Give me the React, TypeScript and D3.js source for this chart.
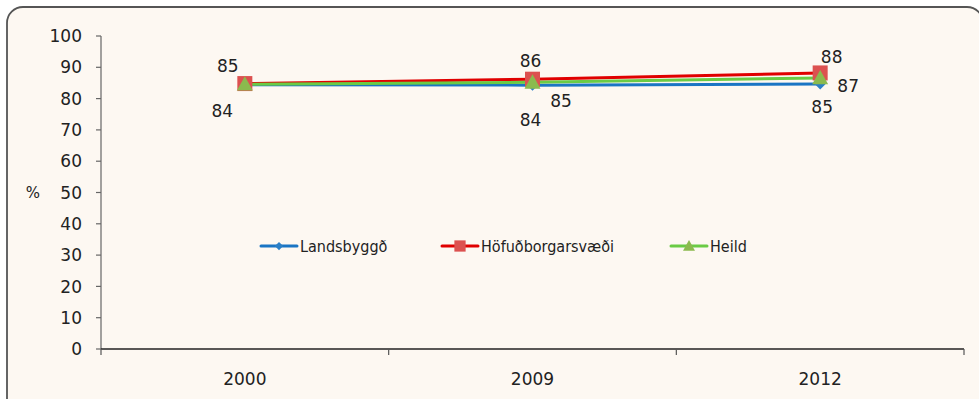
import React from "react";
import * as d3 from "d3";

const categories = ["2000", "2009", "2012"];
const landsbyggd = [84.4, 84.3, 84.7];
const hofudborg = [84.8, 86.2, 88.2];
const heild = [84.6, 85.2, 86.6];
const landsbyggdLabels = ["84", "84", "85"];
const hofudborgLabels = ["85", "86", "88"];
const heildLabels = [null, "85", "87"];
const yTicks = [0, 10, 20, 30, 40, 50, 60, 70, 80, 90, 100];

const W = 979;
const H = 399;
const FONT = "'DejaVu Sans', sans-serif";
const LEGEND_FONT = "'DejaVu Sans Condensed', 'DejaVu Sans', sans-serif";

// label placement (offset from the marker) per series position
const LABEL_OFFSETS: Record<string, [number, number][]> = {
  below: [[-22.5, 32], [-2, 41], [2, 29]],
  above: [[-17, -11.6], [-2, -12], [11.5, -10]],
  right: [[28, 14], [28.5, 25], [28, 14]],
};

export default function App() {
  const x = d3.scaleBand<string>().domain(categories).range([101, 964]);
  const y = d3.scaleLinear().domain([0, 100]).range([349, 36]);
  const cx = (c: string) => (x(c) as number) + x.bandwidth() / 2;
  const line = d3
    .line<number>()
    .x((_, i) => cx(categories[i]))
    .y((d) => y(d));

  const series = [
    { name: "Landsbyggð", values: landsbyggd, labels: landsbyggdLabels, line: "#1a75c4", marker: "#2b7fc6", shape: "diamond", pos: "below" },
    { name: "Höfuðborgarsvæði", values: hofudborg, labels: hofudborgLabels, line: "#e00000", marker: "#dc5150", shape: "square", pos: "above" },
    { name: "Heild", values: heild, labels: heildLabels, line: "#6acb45", marker: "#8bba4e", shape: "triangle", pos: "right" },
  ];

  const marker = (shape: string, color: string, px: number, py: number, s = 1) => {
    if (shape === "diamond") {
      const r = 5.5 * s;
      return <path d={`M${px},${py - r}L${px + r},${py}L${px},${py + r}L${px - r},${py}Z`} fill={color} />;
    }
    if (shape === "square") {
      const r = 7.5 * s;
      return <rect x={px - r} y={py - r} width={2 * r} height={2 * r} fill={color} />;
    }
    const r = 8 * s;
    return <path d={`M${px},${py - r}L${px + r},${py + r * 0.8}L${px - r},${py + r * 0.8}Z`} fill={color} />;
  };

  const legendItems = [
    { x0: 261, textX: 300 },
    { x0: 442, textX: 481 },
    { x0: 671, textX: 710 },
  ];
  const legendY = 246;

  return (
    <svg width={W} height={H} style={{ position: "absolute", left: 0, top: 0, background: "#ffffff" }}>
      <rect x={7} y={7} width={976} height={420} rx={16} ry={16} fill="#fdf8f2" stroke="#555" strokeWidth={1.8} />

      {/* y axis */}
      <line x1={101} x2={101} y1={36} y2={349} stroke="#666" strokeWidth={1.2} />
      {yTicks.map((t) => (
        <g key={t}>
          <line x1={96} x2={101} y1={y(t)} y2={y(t)} stroke="#666" strokeWidth={1.2} />
          <text x={82} y={y(t)} dy="0.36em" textAnchor="end" fontFamily={FONT} fontSize={17} fill="#222">
            {t}
          </text>
        </g>
      ))}
      <text x={33} y={y(50)} dy="0.36em" textAnchor="middle" fontFamily={FONT} fontSize={15} fill="#222">
        %
      </text>

      {/* x axis */}
      <line x1={101} x2={964} y1={349} y2={349} stroke="#222" strokeWidth={1.5} />
      {[...categories.map((c) => x(c) as number), 964].map((v, i) => (
        <line key={i} x1={v} x2={v} y1={349} y2={355} stroke="#555" strokeWidth={1.2} />
      ))}
      {categories.map((c) => (
        <text key={c} x={cx(c)} y={385} textAnchor="middle" fontFamily={FONT} fontSize={17} fill="#222">
          {c}
        </text>
      ))}

      {/* lines */}
      {series.map((s) => (
        <path key={s.name} d={line(s.values) || ""} fill="none" stroke={s.line} strokeWidth={3} />
      ))}
      {series.map((s) => (
        <g key={s.name + "m"}>
          {s.values.map((v, i) => (
            <g key={i}>{marker(s.shape, s.marker, cx(categories[i]), y(v))}</g>
          ))}
        </g>
      ))}
      {series.map((s) => (
        <g key={s.name + "l"}>
          {s.values.map((v, i) => {
            const lab = s.labels[i];
            if (lab == null) return null;
            const [dx, dy] = LABEL_OFFSETS[s.pos][i];
            return (
              <text key={i} x={cx(categories[i]) + dx} y={y(v) + dy} textAnchor="middle" fontFamily={FONT} fontSize={17} fill="#222">
                {lab}
              </text>
            );
          })}
        </g>
      ))}

      {/* legend */}
      {series.map((s, i) => {
        const it = legendItems[i];
        return (
          <g key={s.name + "leg"}>
            <line x1={it.x0} x2={it.x0 + 36} y1={legendY} y2={legendY} stroke={s.line} strokeWidth={3} strokeLinecap="round" />
            {marker(s.shape, s.marker, it.x0 + 18, legendY, 0.75)}
            <text x={it.textX} y={legendY} dy="0.36em" fontFamily={LEGEND_FONT} fontSize={16} fill="#222">
              {s.name}
            </text>
          </g>
        );
      })}
    </svg>
  );
}
